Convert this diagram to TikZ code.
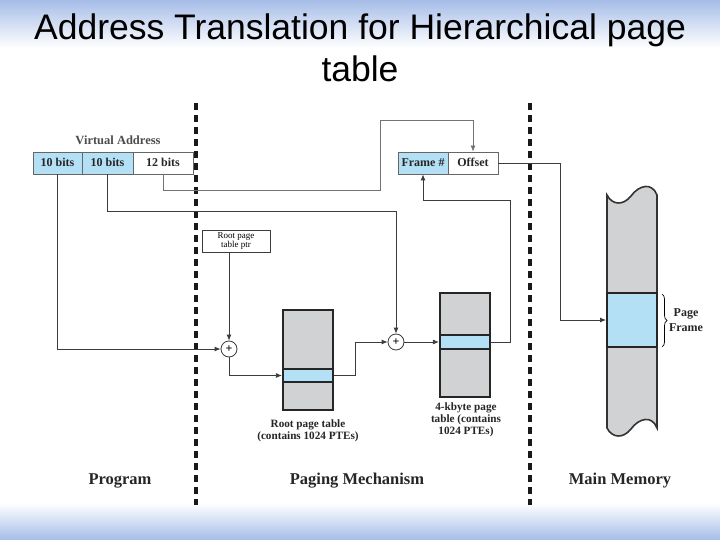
\documentclass[tikz,border=0pt]{standalone}
\usepackage{fontspec}
\setmainfont{Liberation Serif}
\newfontfamily\titlefont{Liberation Sans}
\usetikzlibrary{arrows.meta,decorations.pathreplacing,calc}
\definecolor{pblue}{RGB}{180,224,246}
\definecolor{pgray}{RGB}{209,210,212}
\definecolor{bgblue}{RGB}{166,189,232}
\definecolor{linec}{RGB}{60,60,60}
\tikzset{
  fbox/.style={draw=gray!80!black, line width=0.8pt, minimum height=22pt, inner sep=0pt, text height=8.5pt, text depth=1.5pt, font=\bfseries\fontsize{12}{12}\selectfont, text=black!85},
  tbl/.style={draw=black!85, line width=2.2pt, fill=pgray, minimum width=50pt, inner sep=0pt},
  ent/.style={draw=black!85, line width=2.2pt, fill=pblue, minimum width=50pt, inner sep=0pt},
  addr/.style={draw=linec, line width=0.8pt, fill=white, circle, minimum size=16pt, inner sep=0pt, font=\bfseries\fontsize{12}{12}\selectfont},
  conn/.style={draw=linec, line width=0.8pt},
  arr/.style={conn, -{Latex[length=6pt,width=5pt]}},
  divider/.style={line width=4pt, dash pattern=on 7pt off 5pt, black!90},
  lbl/.style={font=\bfseries\fontsize{11.2}{12}\selectfont, align=center, text=black!85},
  sect/.style={font=\bfseries\fontsize{16.5}{18}\selectfont, text=black!85},
}
\begin{document}
\begin{tikzpicture}[x=1pt,y=-1pt]
\useasboundingbox (0,0) rectangle (720,540);
% background
\fill[white] (0,0) rectangle (720,540);
\shade[top color=bgblue, bottom color=white] (0,0) rectangle (720,48);
\shade[top color=white, bottom color=bgblue] (0,503) rectangle (720,540);
\fill[white] (18,95) rectangle (706,503);
% title
\node[font=\titlefont\fontsize{35.5}{42}\selectfont, align=center] (title) at (360,48) {Address Translation for Hierarchical page\\table};
% dividers
\draw[divider] (196,103) -- (196,505);
\draw[divider] (530,103) -- (530,505);
% virtual address
\node[font=\bfseries\fontsize{12.5}{13}\selectfont, text=black!70] (valbl) at (118,140) {Virtual Address};
\node[fbox, fill=pblue, minimum width=49pt] (b1) at (57.5,163) {10 bits};
\node[fbox, fill=pblue, minimum width=51pt] (b2) at (107.5,163) {10 bits};
\node[fbox, fill=white, minimum width=60pt] (b3) at (163,163) {12 bits};
% physical address
\node[fbox, fill=pblue, minimum width=50pt] (fr) at (423,163) {Frame \#};
\node[fbox, fill=white, minimum width=50pt] (off) at (473,163) {Offset};
% root ptr
\node[draw=linec, line width=0.7pt, minimum width=68pt, minimum height=22pt, inner sep=0pt, align=center, font=\fontsize{9}{9.5}\selectfont] (ptr) at (236,241) {Root page\\table ptr};
% adders
\node[addr] (p1) at (229,349) {+};
\node[addr] (p2) at (396,342) {+};
% root page table
\node[tbl, minimum height=100pt] (rt) at (308,360) {};
\node[ent, minimum height=13pt] (re) at (308,375.5) {};
\node[lbl] (rtl) at (308,431) {Root page table\\(contains 1024 PTEs)};
% 4k page table
\node[tbl, minimum height=104pt] (kt) at (465,345) {};
\node[ent, minimum height=14pt] (ke) at (465,342) {};
\node[lbl] (ktl) at (466,420) {4-kbyte page\\table (contains\\1024 PTEs)};
% main memory
\draw[line width=1.6pt, draw=black!80, fill=pgray]
  (607,195) .. controls (612,205) and (623,206) .. (631,196)
  .. controls (639,185) and (652,182) .. (657,195)
  -- (657,428)
  .. controls (652,415) and (639,418) .. (631,429)
  .. controls (623,439) and (612,438) .. (607,428) -- cycle;
\node[draw=black!85, line width=2pt, fill=pblue, minimum width=50pt, minimum height=54pt, inner sep=0pt] (pf) at (632,320) {};
\draw[line width=0.7pt, decorate, decoration={brace, amplitude=5pt}] (662,294) -- (662,347);
\node[lbl, font=\bfseries\fontsize{12}{15}\selectfont] (pfl) at (686,320) {Page\\Frame};
% section labels
\node[sect] (s1) at (120,481) {Program};
\node[sect] (s2) at (357,481) {Paging Mechanism};
\node[sect] (s3) at (620,481) {Main Memory};
% connectors
\draw[arr] (b1.south) |- (p1.west);
\draw[arr] (p1.north |- ptr.south) -- (p1.north);
\draw[arr] (p1.south) |- (re.west);
\draw[arr] (re.east) -| (355,342) -- (p2.west);
\draw[arr] (b2.south) |- (396,211) -- (p2.north);
\draw[arr] (p2.east) -- (ke.west);
\draw[arr] (ke.east) -| (510,200) -| (fr.south);
\draw[arr, draw=gray!90!black] (b3.south) |- (380,190) -- (380,120) -| (off.north);
\draw[arr] (off.east) -| (560,320) -- (pf.west);
\end{tikzpicture}
\end{document}
